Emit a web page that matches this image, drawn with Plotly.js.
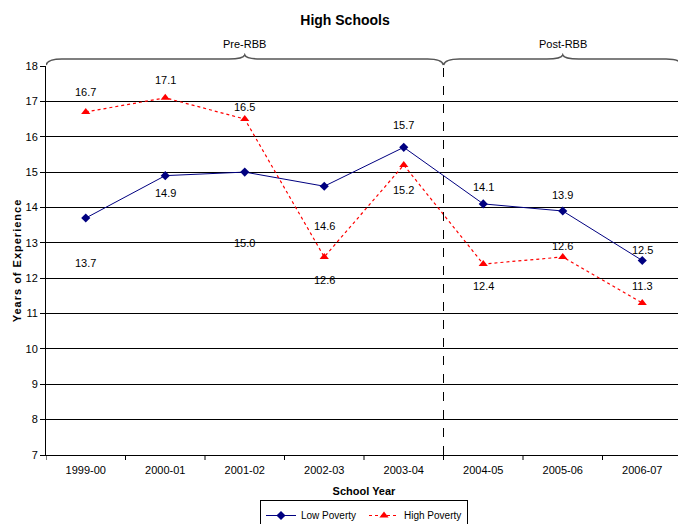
<!DOCTYPE html>
<html>
<head>
<meta charset="utf-8">
<script src="https://cdn.plot.ly/plotly-3.0.1.min.js"></script>
<style>
html,body{margin:0;padding:0;overflow:hidden;background:#fff;}
#chart{width:700px;height:524px;}
</style>
</head>
<body>
<div id="chart"></div>
<script>
const years = ['1999-00','2000-01','2001-02','2002-03','2003-04','2004-05','2005-06','2006-07'];
const lowPoverty = [13.7, 14.9, 15.0, 14.6, 15.7, 14.1, 13.9, 12.5];
const highPoverty = [16.7, 17.1, 16.5, 12.6, 15.2, 12.4, 12.6, 11.3];
// pixel offsets for the value labels (positive = above)
const lowLabelShift = [-45, -17, -71, -40, 22, 17, 16, 11];
const highLabelShift = [20, 18, 12, -23, -25, -22, 11, 17];
const periods = [{name:'Pre-RBB', from:-0.5, to:4.5}, {name:'Post-RBB', from:4.5, to:7.5}];

const FONT = 'Liberation Sans, Arial, sans-serif';

const traces = [
  {x: years.map((_, i) => i), y: lowPoverty, name: 'Low Poverty', type: 'scatter', mode: 'lines+markers',
   line: {color: '#000080', width: 1}, marker: {symbol: 'diamond', size: 7, color: '#000080'}},
  {x: years.map((_, i) => i), y: highPoverty, name: 'High Poverty', type: 'scatter', mode: 'lines+markers',
   line: {color: '#ff0000', width: 1.2, dash: 'dot'}, marker: {symbol: 'triangle-up', size: 8, color: '#ff0000'}}
];

const annotations = [];
lowPoverty.forEach((v, i) => annotations.push({x: i, y: v, xref: 'x', yref: 'y', text: v.toFixed(1),
  showarrow: false, yshift: lowLabelShift[i], font: {family: FONT, size: 11, color: '#000'}}));
highPoverty.forEach((v, i) => annotations.push({x: i, y: v, xref: 'x', yref: 'y', text: v.toFixed(1),
  showarrow: false, yshift: highLabelShift[i], font: {family: FONT, size: 11, color: '#000'}}));
periods.forEach(p => annotations.push({x: (p.from + p.to) / 2, y: 1, xref: 'x', yref: 'paper', yanchor: 'bottom',
  yshift: 14, text: p.name, showarrow: false, font: {family: FONT, size: 11, color: '#000'}}));

const H = 389; // plot height in px (for paper conversion)
function py(px){ return 1 + px / H; }
const shapes = [];
periods.forEach(p => {
  const a = p.from, b = p.to, m = (a + b) / 2;
  const d = 0.2;
  const path = `M ${a} ${py(1)} Q ${a+0.02} ${py(7)} ${a+d} ${py(7)} L ${m-d} ${py(7)} Q ${m-0.02} ${py(7)} ${m} ${py(11)} ` +
               `Q ${m+0.02} ${py(7)} ${m+d} ${py(7)} L ${b-d} ${py(7)} Q ${b-0.02} ${py(7)} ${b} ${py(1)}`;
  shapes.push({type: 'path', xref: 'x', yref: 'paper', path: path, line: {color: '#555', width: 1.6}});
});
shapes.push({type: 'line', xref: 'x', yref: 'paper', x0: 4.5, x1: 4.5, y0: 0, y1: py(2),
  line: {color: '#000', width: 1, dash: 'dash'}});
for (let i = 0; i < years.length; i++) {
  shapes.push({type:'line', xref:'x', yref:'paper', x0: i-0.5, x1: i-0.5, y0: 0, y1: -5/H, line:{color:'#000', width:1}});
}

const layout = {
  width: 700, height: 524, autosize: false,
  margin: {l: 46, r: 18, t: 66, b: 69, autoexpand: false},
  paper_bgcolor: '#fff', plot_bgcolor: '#fff',
  font: {family: FONT, size: 11, color: '#000'},
  title: {text: '<b>High Schools</b>', x: 345/700, xanchor: 'center', y: 1 - 20/524, yanchor: 'middle',
    font: {family: FONT, size: 14, color: '#000'}},
  xaxis: {
    range: [-0.5, 7.5], tickmode: 'array', tickvals: years.map((_, i) => i), ticktext: years, tickangle: 0,
    showgrid: false, zeroline: false, showline: true, linecolor: '#000', linewidth: 1, automargin: false,
    ticks: '', ticklabelstandoff: 5, tickfont: {family: FONT, size: 11},
    title: {text: '<b>School Year</b>', font: {family: FONT, size: 11}, standoff: 12}
  },
  yaxis: {
    range: [7, 18], dtick: 1, showgrid: true, gridcolor: '#000', gridwidth: 1, zeroline: false, automargin: false,
    showline: true, linecolor: '#000', linewidth: 1, ticks: 'outside', ticklen: 5, tickcolor: '#000',
    tickfont: {family: FONT, size: 11},
    title: {text: '<b>Years of Experience</b>', font: {family: FONT, size: 11}, standoff: 1}
  },
  showlegend: true,
  legend: {orientation: 'h', x: 0.5, xanchor: 'center', y: -(500 - 455) / H, yanchor: 'top',
    itemwidth: 30, tracegroupgap: 0, entrywidth: 58,
    bordercolor: '#000', borderwidth: 1, bgcolor: '#fff', font: {family: FONT, size: 10}},
  annotations: annotations,
  shapes: shapes
};

Plotly.newPlot('chart', traces, layout, {displayModeBar: false}).then(gd => {
  const t = gd.querySelector('.ytitle');
  if (t) t.style.letterSpacing = '1px';
});
</script>
</body>
</html>
